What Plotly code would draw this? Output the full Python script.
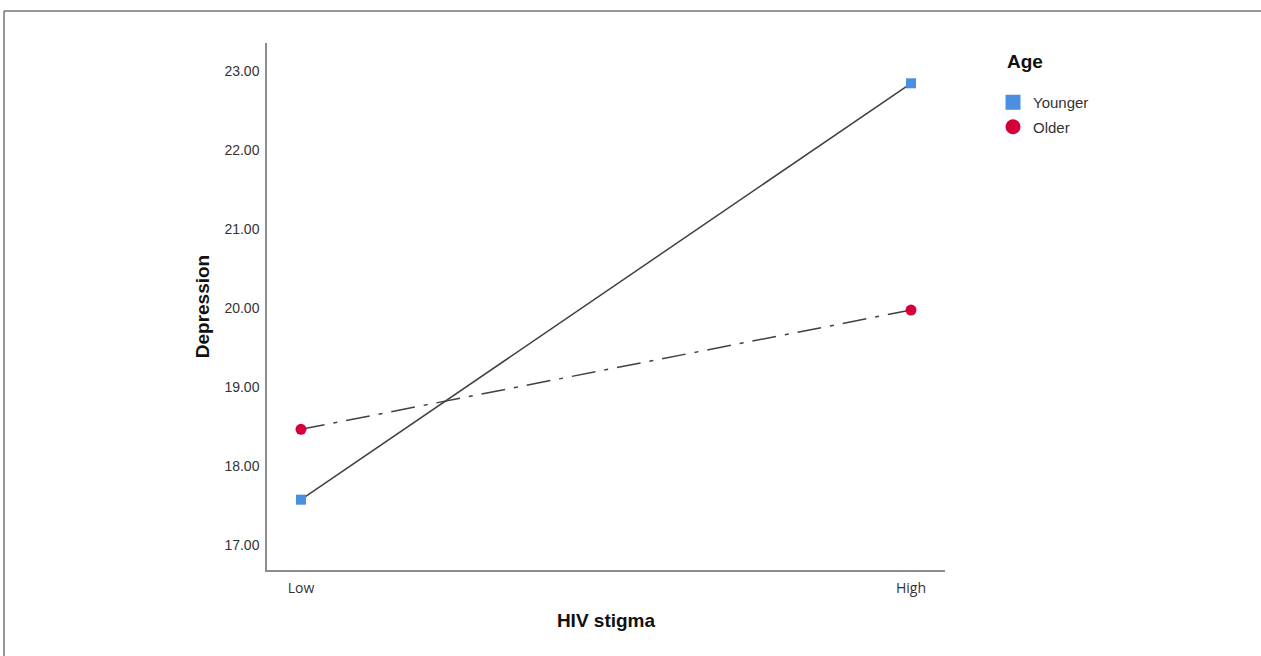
import plotly.graph_objects as go

stigma_levels = ["Low", "High"]
younger_values = [17.57, 22.84]
older_values = [18.46, 19.97]
y_tick_values = [17, 18, 19, 20, 21, 22, 23]
y_tick_labels = ["17.00", "18.00", "19.00", "20.00", "21.00", "22.00", "23.00"]

BLUE = "#4a8fe0"
RED = "#d5003a"
LINE = "#404040"

fig = go.Figure()

fig.add_trace(go.Scatter(
    x=stigma_levels, y=younger_values, mode="lines+markers",
    line=dict(color=LINE, width=1.5),
    marker=dict(symbol="square", size=10, color=BLUE),
    showlegend=False, hoverinfo="skip"))
fig.add_trace(go.Scatter(
    x=stigma_levels, y=older_values, mode="lines+markers",
    line=dict(color=LINE, width=1.5, dash="24px,9px,4px,9px"),
    marker=dict(symbol="circle", size=11, color=RED),
    showlegend=False, hoverinfo="skip"))

# legend-only entries (marker only)
fig.add_trace(go.Scatter(
    x=[None], y=[None], mode="markers", name="Younger", legendgroup="a",
    marker=dict(symbol="square", size=15, color=BLUE)))
fig.add_trace(go.Scatter(
    x=[None], y=[None], mode="markers", name="Older", legendgroup="b",
    marker=dict(symbol="circle", size=15, color=RED)))

W, H = 1261, 656
L, R, T, B = 267, 945, 43, 570
pw, ph = R - L, B - T

def px_x(p):
    return (p - L) / pw

def px_y(p):
    return (B - p) / ph

# outer frame (cropped)
fig.add_shape(type="line", xref="paper", yref="paper",
              x0=px_x(4), x1=px_x(4), y0=px_y(11), y1=px_y(670),
              line=dict(color="#333333", width=1))
fig.add_shape(type="line", xref="paper", yref="paper",
              x0=px_x(4), x1=px_x(1270), y0=px_y(11), y1=px_y(11),
              line=dict(color="#333333", width=1))

# legend title
fig.add_annotation(xref="paper", yref="paper", x=px_x(1005), y=px_y(62),
                   xanchor="left", yanchor="middle", showarrow=False,
                   text="<b>Age</b>",
                   font=dict(family="Liberation Sans, Arial, sans-serif", size=19, color="#111111"))

fig.update_layout(
    width=W, height=H,
    margin=dict(l=L, r=W - R, t=T, b=H - B, pad=0),
    paper_bgcolor="white", plot_bgcolor="white",
    font=dict(family="Liberation Sans, Arial, sans-serif", color="#222222"),
    xaxis=dict(
        type="category", range=[-0.0557, 1.0557],
        showline=True, linecolor="#8c8c8c", linewidth=1.5,
        showgrid=False, zeroline=False, ticks="",
        tickfont=dict(family="Open Sans, sans-serif", size=14, color="#333333"),
        ticklabelstandoff=4,
        title=dict(text="<b>HIV stigma</b>", standoff=18,
                   font=dict(family="Liberation Sans, Arial, sans-serif", size=19, color="#111111")),
    ),
    yaxis=dict(
        range=[16.68, 23.35],
        tickvals=y_tick_values, ticktext=y_tick_labels,
        showline=True, linecolor="#8c8c8c", linewidth=1.5,
        showgrid=False, zeroline=False, ticks="",
        tickfont=dict(family="Liberation Sans, Arial, sans-serif", size=14, color="#333333"),
        ticklabelstandoff=3,
        title=dict(text="<b>Depression</b>", standoff=10,
                   font=dict(family="Liberation Sans, Arial, sans-serif", size=19, color="#111111")),
    ),
    legend=dict(
        x=px_x(993), y=px_y(86), xanchor="left", yanchor="top",
        font=dict(family="Liberation Sans, Arial, sans-serif", size=15, color="#333333"),
        bgcolor="rgba(0,0,0,0)", tracegroupgap=2,
    ),
)

fig.write_html("out.html", config={"displayModeBar": False},
               post_script="document.body.style.margin='0';")
